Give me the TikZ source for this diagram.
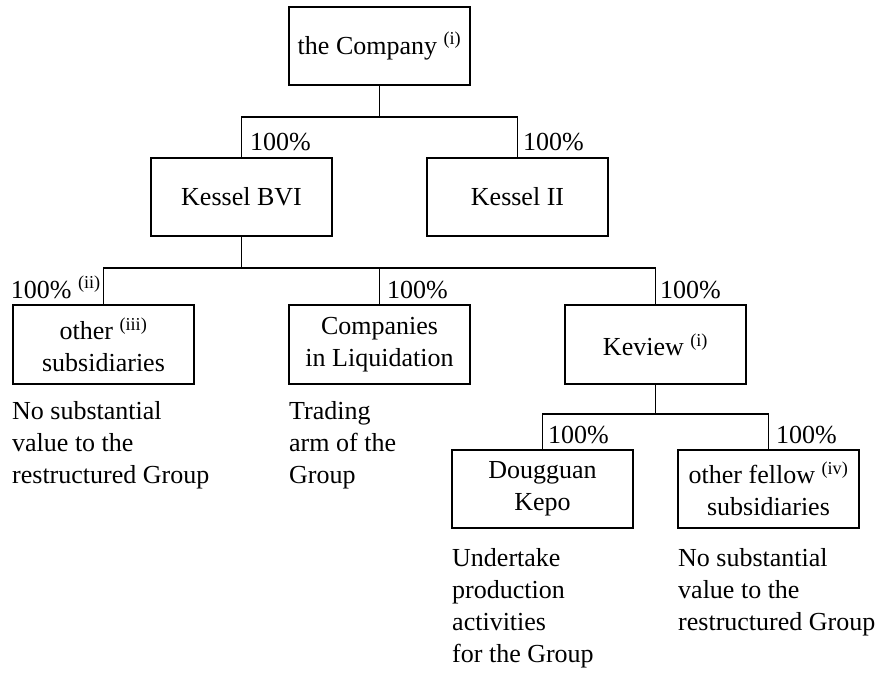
\documentclass[tikz,border=0pt]{standalone}
\usepackage{fontspec}
\setmainfont{Liberation Serif}
\newcommand\dgfont{\fontsize{26}{32}\selectfont}
\begin{document}
\begin{tikzpicture}[x=1pt,y=-1pt,
  box/.style={draw, line width=1.3pt, minimum width=181pt, minimum height=78pt, inner sep=0pt, align=center, font=\dgfont},
  pct/.style={inner sep=0pt, anchor=base west, font=\dgfont},
  desc/.style={inner sep=0pt, anchor=base west, align=left, font=\dgfont},
  link/.style={line width=1.3pt}]
\useasboundingbox (0,0) rectangle (896,673);
% boxes
\node[box] (comp) at (379.5,46) {the Company \textsuperscript{(i)}};
\node[box] (bvi) at (241.5,197) {Kessel BVI};
\node[box] (k2) at (517.5,197) {Kessel II};
\node[box, minimum height=79pt] (other) at (103.5,344.5) {other \textsuperscript{(iii)}\\subsidiaries};
\node[box, minimum height=79pt] (liq) at (379.5,344.5) {Companies\\in Liquidation};
\node[box, minimum height=79pt] (kev) at (655.5,344.5) {Keview \textsuperscript{(i)}};
\node[box] (doug) at (542.5,489) {Dougguan\\Kepo};
\node[box] (fellow) at (768.5,489) {other fellow \textsuperscript{(iv)}\\subsidiaries};
% junctions
\coordinate (j1) at (379.5,117);
\coordinate (j2) at (241.5,268);
\coordinate (j3) at (655.5,414);
% connectors
\draw[link] (comp.south) -- (j1) -| (bvi.north);
\draw[link] (j1) -| (k2.north);
\draw[link] (bvi.south) -- (j2) -| (other.north);
\draw[link] (j2) -| (liq.north);
\draw[link] (j2) -| (kev.north);
\draw[link] (kev.south) -- (j3) -| (doug.north);
\draw[link] (j3) -| (fellow.north);
% percentages
\node[pct] (p1) at (250,150) {100\%};
\node[pct] (p2) at (523,150) {100\%};
\node[pct, anchor=base east] (p3) at (101,298) {100\% \textsuperscript{(ii)}};
\node[pct] (p4) at (387,298) {100\%};
\node[pct] (p5) at (660,298) {100\%};
\node[pct] (p6) at (548,443) {100\%};
\node[pct] (p7) at (776,443) {100\%};
% descriptions (base = baseline of last line)
\node[desc] (d1) at (12,483) {No substantial\\value to the\\restructured Group};
\node[desc] (d2) at (289,483) {Trading\\arm of the\\Group};
\node[desc] (d3) at (452,662) {Undertake\\production\\activities\\for the Group};
\node[desc] (d4) at (678,630) {No substantial\\value to the\\restructured Group};
\end{tikzpicture}
\end{document}
